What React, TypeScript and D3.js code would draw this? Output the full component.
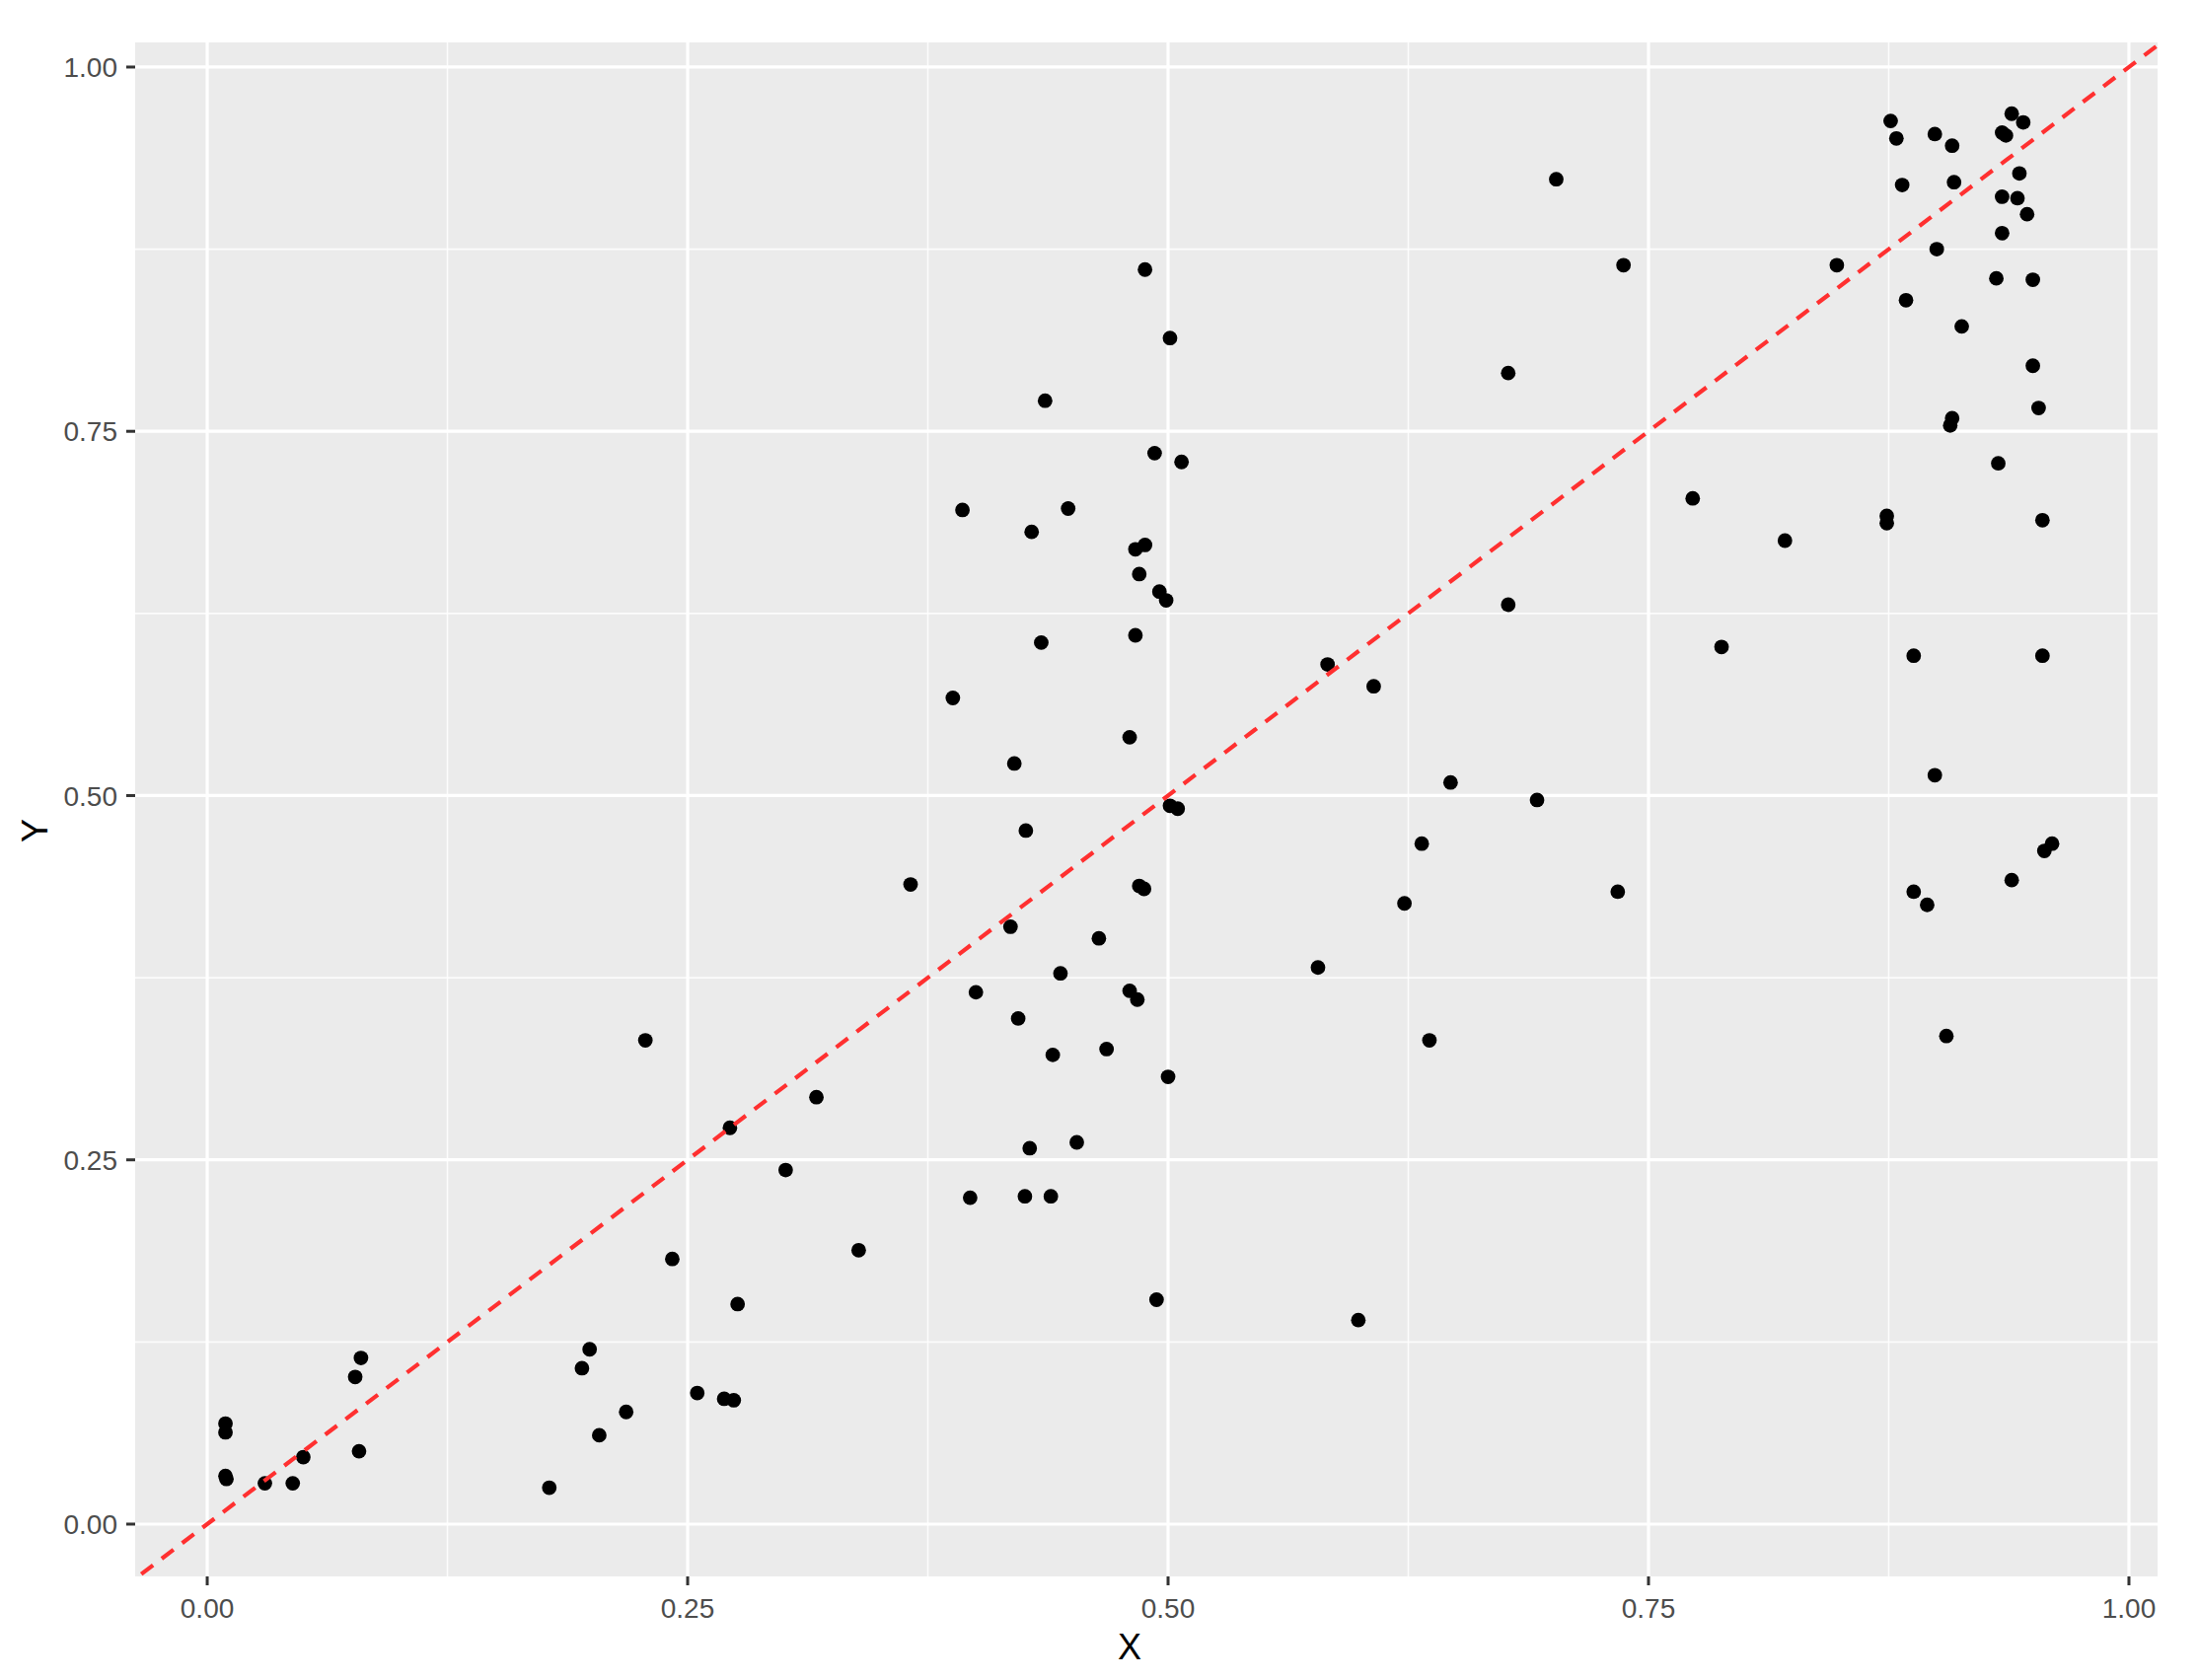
import React from "react";
import * as d3 from "d3";

const xValues = [
  0.0095, 0.0095, 0.0095, 0.010, 0.030, 0.0445, 0.050, 0.077, 0.080, 0.079,
  0.178, 0.195, 0.199, 0.204, 0.218, 0.228, 0.242, 0.255, 0.269, 0.274,
  0.272, 0.276, 0.301, 0.317, 0.339, 0.366, 0.388, 0.393, 0.397, 0.400,
  0.418, 0.420, 0.422, 0.4255, 0.426, 0.429, 0.428, 0.434, 0.436, 0.439,
  0.440, 0.444, 0.448, 0.4525, 0.464, 0.468, 0.480, 0.480, 0.483, 0.484,
  0.483, 0.485, 0.485, 0.488, 0.4875, 0.488, 0.493, 0.494, 0.4955, 0.499,
  0.501, 0.500, 0.501, 0.505, 0.507, 0.578, 0.583, 0.599, 0.607, 0.623,
  0.632, 0.636, 0.647, 0.677, 0.677, 0.692, 0.702, 0.734, 0.737, 0.773,
  0.788, 0.821, 0.848, 0.874, 0.874, 0.876, 0.879, 0.882, 0.884, 0.888,
  0.888, 0.895, 0.899, 0.899, 0.900, 0.905, 0.908, 0.909, 0.908, 0.907,
  0.913, 0.931, 0.932, 0.934, 0.934, 0.934, 0.936, 0.939, 0.939, 0.942,
  0.943, 0.945, 0.947, 0.950, 0.950, 0.953, 0.955, 0.955, 0.956, 0.960,
];

const yValues = [
  0.069, 0.063, 0.033, 0.031, 0.028, 0.028, 0.046, 0.101, 0.114, 0.050,
  0.025, 0.107, 0.120, 0.061, 0.077, 0.332, 0.182, 0.090, 0.086, 0.085,
  0.272, 0.151, 0.243, 0.293, 0.188, 0.439, 0.567, 0.696, 0.224, 0.365,
  0.410, 0.522, 0.347, 0.225, 0.476, 0.681, 0.258, 0.605, 0.771, 0.225,
  0.322, 0.378, 0.697, 0.262, 0.402, 0.326, 0.540, 0.366, 0.669, 0.360,
  0.610, 0.652, 0.438, 0.672, 0.436, 0.861, 0.735, 0.154, 0.640, 0.634,
  0.814, 0.307, 0.493, 0.491, 0.729, 0.382, 0.590, 0.140, 0.575, 0.426,
  0.467, 0.332, 0.509, 0.790, 0.631, 0.497, 0.923, 0.434, 0.864, 0.704,
  0.602, 0.675, 0.864, 0.692, 0.687, 0.963, 0.951, 0.919, 0.840, 0.434,
  0.596, 0.425, 0.954, 0.514, 0.875, 0.335, 0.946, 0.921, 0.759, 0.754,
  0.822, 0.855, 0.728, 0.955, 0.911, 0.886, 0.953, 0.968, 0.442, 0.910,
  0.927, 0.962, 0.899, 0.854, 0.795, 0.766, 0.689, 0.596, 0.462, 0.467,
];

const majorTicks = [0, 0.25, 0.5, 0.75, 1];
const minorTicks = [0.125, 0.375, 0.625, 0.875];
const tickLabels = ["0.00", "0.25", "0.50", "0.75", "1.00"];
const xTitle = "X";
const yTitle = "Y";

const W = 2229;
const H = 1703;
const P = { left: 137, right: 2187, top: 43, bottom: 1598 };
const xDomain: [number, number] = [-0.0375, 1.0149];
const yDomain: [number, number] = [-0.0359, 1.0169];

export default function App() {
  const x = d3.scaleLinear().domain(xDomain).range([P.left, P.right]);
  const y = d3.scaleLinear().domain(yDomain).range([P.bottom, P.top]);
  const lineGen = d3
    .line<[number, number]>()
    .x((d) => x(d[0]))
    .y((d) => y(d[1]));
  const lo = Math.min(xDomain[0], yDomain[0]) - 0.05;
  const hi = Math.max(xDomain[1], yDomain[1]) + 0.05;
  const abline = lineGen([
    [lo, lo],
    [hi, hi],
  ]);
  const font = "'Liberation Sans', Arial, sans-serif";
  const pts = xValues.map((v, i) => [v, yValues[i]] as [number, number]);

  return (
    <svg
      width={W}
      height={H}
      style={{ position: "absolute", left: 0, top: 0, background: "#fff" }}
      fontFamily={font}
    >
      <defs>
        <clipPath id="panel">
          <rect x={P.left} y={P.top} width={P.right - P.left} height={P.bottom - P.top} />
        </clipPath>
      </defs>
      <rect x={0} y={0} width={W} height={H} fill="#fff" />
      <rect
        x={P.left}
        y={P.top}
        width={P.right - P.left}
        height={P.bottom - P.top}
        fill="#ebebeb"
      />
      {minorTicks.map((t) => (
        <g key={"mn" + t}>
          <line x1={x(t)} x2={x(t)} y1={P.top} y2={P.bottom} stroke="#fff" strokeWidth={1.6} opacity={0.85} />
          <line x1={P.left} x2={P.right} y1={y(t)} y2={y(t)} stroke="#fff" strokeWidth={1.6} opacity={0.85} />
        </g>
      ))}
      {majorTicks.map((t) => (
        <g key={"mj" + t}>
          <line x1={x(t)} x2={x(t)} y1={P.top} y2={P.bottom} stroke="#fff" strokeWidth={3.2} />
          <line x1={P.left} x2={P.right} y1={y(t)} y2={y(t)} stroke="#fff" strokeWidth={3.2} />
        </g>
      ))}
      <g clipPath="url(#panel)">
        {pts.map((d, i) => (
          <circle key={i} cx={x(d[0])} cy={y(d[1])} r={7.4} fill="#000" />
        ))}
        <path
          d={abline || ""}
          fill="none"
          stroke="#ff3030"
          strokeWidth={4.2}
          strokeDasharray="15 11"
        />
      </g>
      {majorTicks.map((t, i) => (
        <g key={"xt" + t}>
          <line x1={x(t)} x2={x(t)} y1={P.bottom} y2={P.bottom + 9} stroke="#333" strokeWidth={3} />
          <text x={x(t)} y={1640} textAnchor="middle" fontSize={28} fill="#4d4d4d">
            {tickLabels[i]}
          </text>
        </g>
      ))}
      {majorTicks.map((t, i) => (
        <g key={"yt" + t}>
          <line x1={P.left - 9} x2={P.left} y1={y(t)} y2={y(t)} stroke="#333" strokeWidth={3} />
          <text x={119} y={y(t)} dy="0.36em" textAnchor="end" fontSize={28} fill="#4d4d4d">
            {tickLabels[i]}
          </text>
        </g>
      ))}
      <text x={1145} y={1682} textAnchor="middle" fontSize={36} fill="#000">
        {xTitle}
      </text>
      <text
        transform={`translate(48, 842) rotate(-90)`}
        textAnchor="middle"
        fontSize={36}
        fill="#000"
      >
        {yTitle}
      </text>
    </svg>
  );
}
